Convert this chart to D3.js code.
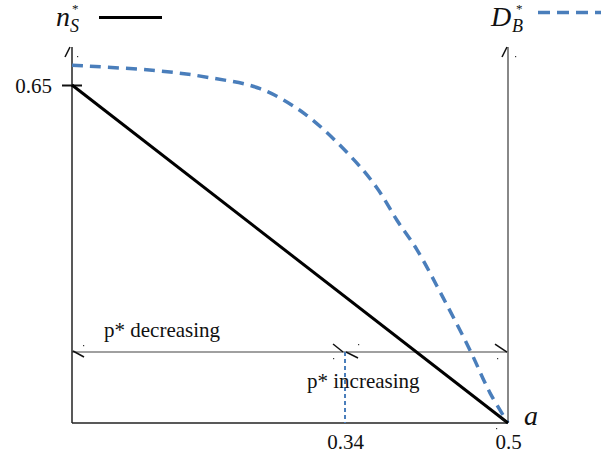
<!DOCTYPE html>
<html><head><meta charset="utf-8">
<script src="https://cdn.jsdelivr.net/npm/d3@7"></script>
<style>html,body{margin:0;padding:0;background:#fff}svg{display:block}text{font-family:"Liberation Serif","Times New Roman",serif}</style>
</head><body>
<script>
// ---- data ----
const nsA = [0.072, 0.5];
const nsValues = [0.65, 0];
const dbA = [0.072, 0.1585, 0.2076, 0.2566, 0.3008, 0.345, 0.3714, 0.391, 0.4107, 0.436, 0.4627, 0.4823, 0.5];
const dbValues = [0.688, 0.677, 0.664, 0.643, 0.594, 0.514, 0.452, 0.390, 0.333, 0.242, 0.140, 0.058, 0];
const xTickValues = [0.34, 0.5];
const xTickLabels = ["0.34", "0.5"];
const yTickValues = [0.65];
const yTickLabels = ["0.65"];
const threshold = 0.34;
const pLevel = 0.1365;
const regionLabels = ["p* decreasing", "p* increasing"];

// ---- drawing ----
const W = 613, H = 457;
const svg = d3.select("body").append("svg").attr("width", W).attr("height", H);
const x = d3.scaleLinear().domain([0.072, 0.5]).range([72, 508]);
const y = d3.scaleLinear().domain([0, 0.65]).range([423, 85]);
const yTopVal = y.invert(47);
const x0 = x.domain()[0], x1 = x.domain()[1];
const blue = "#4a7ebb";
const serif = '"Liberation Serif","Times New Roman",serif';

// right axis (gray)
svg.append("line").attr("x1", x(x1)).attr("x2", x(x1)).attr("y1", y(yTopVal)).attr("y2", y(0))
  .attr("stroke", "#888").attr("stroke-width", 2);
// horizontal p* line
svg.append("line").attr("x1", x(x0)).attr("x2", x(x1)).attr("y1", y(pLevel)).attr("y2", y(pLevel))
  .attr("stroke", "#808080").attr("stroke-width", 1.5);
// left axis
svg.append("line").attr("x1", x(x0)).attr("x2", x(x0)).attr("y1", y(yTopVal)).attr("y2", y(0))
  .attr("stroke", "#222").attr("stroke-width", 1.5);
// bottom axis
svg.append("line").attr("x1", x(x0)).attr("x2", x(x1)).attr("y1", y(0)).attr("y2", y(0))
  .attr("stroke", "#222").attr("stroke-width", 1.5);

// small arrowhead remnants
function slash(px, py, dx, dy) {
  svg.append("line").attr("x1", px).attr("y1", py).attr("x2", px + dx).attr("y2", py + dy)
    .attr("stroke", "#111").attr("stroke-width", 1.5);
}
function dot(px, py) {
  svg.append("rect").attr("x", px).attr("y", py).attr("width", 1.2).attr("height", 1.2).attr("fill", "#333");
}
slash(x(x0) - 7, y(yTopVal) + 10, 5, -10); dot(x(x0) + 5, y(yTopVal) + 9);
slash(x(x1) - 6, y(yTopVal) + 10, 5, -10); dot(x(x1) + 7, y(yTopVal) + 9);
slash(x(x0) + 1, y(pLevel) - 1, 11, 6); dot(x(x0) + 11, y(pLevel) - 7);
slash(x(threshold) - 12, y(pLevel) - 8, 10, 8); dot(x(threshold) - 12, y(pLevel) + 6);
slash(x(threshold) + 1, y(pLevel), 12, 6); dot(x(threshold) + 13, y(pLevel) - 8);
slash(x(x1) - 13, y(pLevel) - 8, 12, 8); dot(x(x1) - 11, y(pLevel) + 6);
dot(x(x1) - 12, y(0) + 5);

// y tick
const yAxis = svg.append("g").attr("transform", `translate(${x(x0)},0)`)
  .call(d3.axisLeft(y).tickValues(yTickValues).tickFormat((d, i) => yTickLabels[i]).tickSize(10));
yAxis.attr("font-family", serif);
yAxis.select(".domain").remove();
yAxis.selectAll(".tick line").attr("x1", -10).attr("x2", 10).attr("stroke", "#111").attr("stroke-width", 2);
yAxis.selectAll(".tick text").attr("x", -20).attr("dy", "0.35em").style("font-family", serif).attr("font-size", 21).attr("fill", "#111");

// x ticks (labels only)
const xAxis = svg.append("g").attr("transform", `translate(0,${y(0)})`)
  .call(d3.axisBottom(x).tickValues(xTickValues).tickFormat((d, i) => xTickLabels[i]).tickSize(0));
xAxis.attr("font-family", serif);
xAxis.select(".domain").remove();
xAxis.selectAll(".tick text").attr("y", 11).attr("dy", "0.71em").style("font-family", serif).attr("font-size", 21).attr("fill", "#111");

// threshold vertical
svg.append("line").attr("x1", x(threshold)).attr("x2", x(threshold)).attr("y1", y(pLevel)).attr("y2", y(0))
  .attr("stroke", blue).attr("stroke-width", 2).attr("stroke-dasharray", "4,3");

// D_B curve
const lineGen = d3.line().x(d => x(d[0])).y(d => y(d[1])).curve(d3.curveCatmullRom.alpha(0.5));
svg.append("path").datum(dbA.map((a, i) => [a, dbValues[i]])).attr("d", lineGen)
  .attr("fill", "none").attr("stroke", blue).attr("stroke-width", 3.5).attr("stroke-dasharray", "11,7");

// n_S line
svg.append("path").datum(nsA.map((a, i) => [a, nsValues[i]])).attr("d", d3.line().x(d => x(d[0])).y(d => y(d[1])))
  .attr("fill", "none").attr("stroke", "#000").attr("stroke-width", 3);
slash(x(x1) - 8, y(0) - 6, 6, 5);

// region labels
svg.append("text").attr("x", 104).attr("y", 337).style("font-family", serif).attr("font-size", 21).attr("fill", "#111").text(regionLabels[0]);
svg.append("text").attr("x", 307).attr("y", 388).style("font-family", serif).attr("font-size", 21).attr("fill", "#111").text(regionLabels[1]);

// axis variable
svg.append("text").attr("x", 524).attr("y", 425).style("font-family", serif).attr("font-style", "italic").attr("font-size", 28).attr("fill", "#111").text("a");

// legend
const leg1 = svg.append("g");
leg1.append("text").attr("x", 56).attr("y", 26).style("font-family", serif).attr("font-style", "italic").attr("font-size", 28).attr("fill", "#111").text("n");
leg1.append("text").attr("x", 70).attr("y", 32).style("font-family", serif).attr("font-style", "italic").attr("font-size", 18).attr("fill", "#111").text("S");
leg1.append("text").attr("x", 72).attr("y", 13).style("font-family", serif).attr("font-size", 13).attr("fill", "#111").text("*");
leg1.append("line").attr("x1", 99).attr("x2", 162).attr("y1", 17.5).attr("y2", 17.5).attr("stroke", "#000").attr("stroke-width", 3);

const leg2 = svg.append("g");
leg2.append("text").attr("x", 491).attr("y", 26).style("font-family", serif).attr("font-style", "italic").attr("font-size", 28).attr("fill", "#111").text("D");
leg2.append("text").attr("x", 512).attr("y", 32).style("font-family", serif).attr("font-style", "italic").attr("font-size", 18).attr("fill", "#111").text("B");
leg2.append("text").attr("x", 516).attr("y", 13).style("font-family", serif).attr("font-size", 13).attr("fill", "#111").text("*");
leg2.append("line").attr("x1", 538).attr("x2", 601).attr("y1", 12.5).attr("y2", 12.5).attr("stroke", blue).attr("stroke-width", 3.5).attr("stroke-dasharray", "12,7");
</script>
</body></html>
